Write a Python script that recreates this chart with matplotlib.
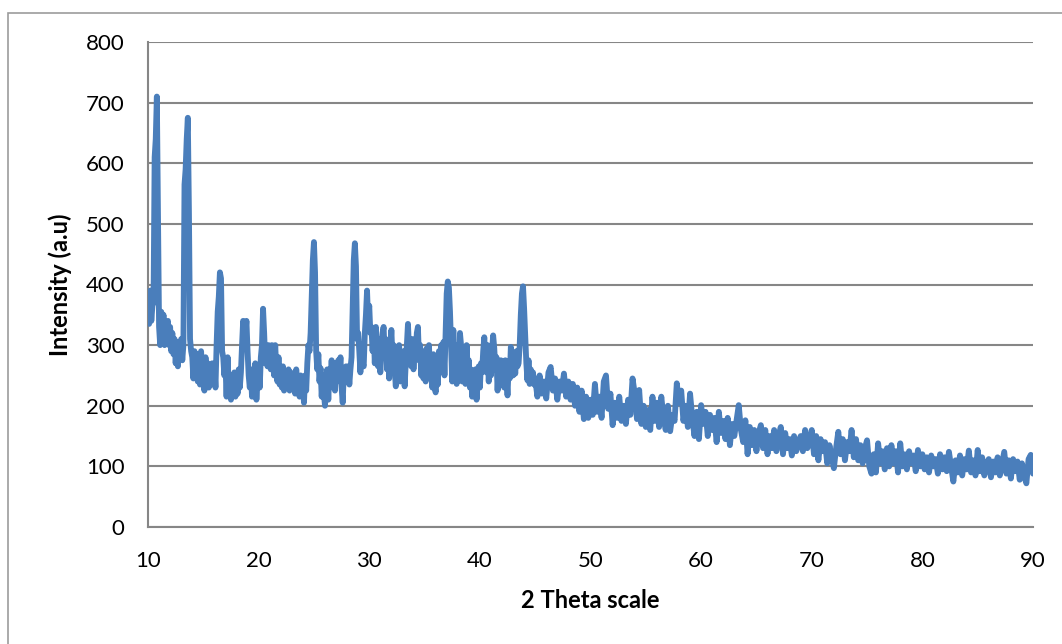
import numpy as np
import matplotlib
matplotlib.use("Agg")
import matplotlib.pyplot as plt
from matplotlib.patches import Rectangle

# XRD scan
# part 1: 10.0 - 44.9 deg, step 0.1
two_theta_a = np.round(np.arange(10.0, 44.95, 0.1), 1)
intensity_a = [
    380, 335, 390, 340, 365, 370, 610, 640, 710, 520,   # 10
    330, 300, 355, 310, 350, 300, 330, 320, 340, 300,   # 11
    330, 290, 320, 285, 310, 270, 300, 265, 305, 280,   # 12
    310, 275, 300, 565, 590, 640, 675, 520, 310, 290,   # 13
    280, 245, 290, 250, 285, 240, 275, 235, 290, 250,   # 14
    260, 225, 280, 240, 270, 230, 255, 235, 270, 240,   # 15
    265, 230, 300, 355, 380, 420, 410, 290, 280, 250,   # 16
    270, 215, 280, 225, 250, 210, 245, 220, 255, 215,   # 17
    240, 220, 260, 230, 255, 300, 340, 300, 320, 340,   # 18
    290, 250, 230, 260, 215, 250, 225, 270, 210, 245,   # 19
    260, 230, 280, 300, 360, 320, 270, 290, 265, 300,   # 20
    275, 260, 300, 285, 250, 300, 260, 240, 280, 235,   # 21
    255, 230, 265, 225, 250, 240, 235, 260, 225, 255,   # 22
    240, 230, 250, 220, 260, 235, 245, 215, 250, 225,   # 23
    235, 205, 250, 225, 270, 300, 290, 320, 380, 440,   # 24
    470, 420, 290, 260, 285, 240, 262, 215, 250, 220,   # 25
    200, 245, 260, 210, 260, 240, 275, 230, 270, 225,   # 26
    260, 240, 275, 255, 280, 230, 205, 255, 240, 265,   # 27
    255, 265, 235, 260, 280, 360, 440, 468, 430, 310,   # 28
    320, 290, 255, 300, 270, 265, 320, 350, 390, 340,   # 29
    365, 320, 330, 290, 325, 270, 330, 280, 265, 310,   # 30
    255, 300, 320, 330, 280, 310, 260, 300, 245, 290,   # 31
    325, 280, 300, 260, 232, 290, 255, 300, 240, 285,   # 32
    250, 290, 232, 270, 300, 335, 290, 300, 265, 310,   # 33
    260, 295, 280, 320, 330, 275, 300, 250, 290, 245,   # 34
    280, 240, 295, 260, 300, 245, 275, 230, 285, 240,   # 35
    222, 270, 235, 290, 255, 300, 270, 305, 250, 320,   # 36
    385, 405, 395, 355, 300, 240, 325, 270, 300, 236,   # 37
    280, 245, 320, 300, 240, 290, 270, 236, 300, 260,   # 38
    275, 230, 260, 215, 250, 225, 260, 210, 240, 265,   # 39
    230, 270, 255, 290, 313, 270, 255, 300, 240, 280,   # 40
    250, 290, 316, 295, 260, 280, 225, 265, 240, 275,   # 41
    255, 270, 230, 275, 250, 217, 265, 245, 297, 280,   # 42
    250, 270, 253, 290, 265, 270, 300, 350, 385, 397,   # 43
    360, 313, 270, 242, 275, 236, 260, 245, 255, 235,   # 44
]

# part 2: 45.0 - 90.0 deg, step 0.2
two_theta_b = np.round(np.arange(45.0, 90.05, 0.2), 1)
intensity_b = [
    245, 215, 250, 220, 240,   # 45
    212, 255, 264, 225, 245,   # 46
    210, 240, 225, 253, 215,   # 47
    240, 210, 236, 200, 230,   # 48
    190, 225, 178, 215, 180,   # 49
    210, 185, 236, 190, 215,   # 50
    180, 240, 250, 195, 220,   # 51
    168, 205, 180, 215, 175,   # 52
    200, 170, 210, 185, 245,   # 53
    220, 178, 226, 170, 200,   # 54
    165, 193, 160, 215, 175,   # 55
    205, 165, 215, 180, 160,   # 56
    200, 158, 185, 175, 237,   # 57
    205, 225, 175, 200, 165,   # 58
    220, 180, 150, 190, 145,   # 59
    201, 170, 190, 150, 185,   # 60
    160, 180, 140, 190, 155,   # 61
    175, 145, 180, 135, 170,   # 62
    150, 175, 201, 160, 140,   # 63
    176, 120, 165, 135, 160,   # 64
    125, 155, 168, 130, 160,   # 65
    120, 150, 130, 160, 125,   # 66
    150, 165, 120, 155, 130,   # 67
    145, 118, 150, 125, 140,   # 68
    150, 125, 160, 130, 140,   # 69
    160, 120, 150, 110, 145,   # 70
    125, 140, 105, 135, 115,   # 71
    97, 130, 157, 120, 145,    # 72
    110, 140, 125, 160, 115,   # 73
    145, 110, 135, 105, 130,   # 74
    143, 100, 88, 120, 90,     # 75
    138, 105, 125, 95, 130,    # 76
    100, 135, 105, 125, 90,    # 77
    138, 100, 120, 95, 125,    # 78
    105, 118, 92, 127, 100,    # 79
    120, 95, 115, 90, 118,     # 80
    100, 112, 88, 120, 95,     # 81
    115, 92, 124, 100, 75,     # 82
    110, 90, 118, 85, 112,     # 83
    95, 126, 90, 110, 85,      # 84
    127, 92, 115, 85, 105,     # 85
    112, 82, 108, 90, 115,     # 86
    85, 105, 124, 88, 110,     # 87
    80, 112, 92, 108, 78,      # 88
    105, 85, 72, 112, 119,     # 89
    88,                        # 90
]

x_ticks = [10, 20, 30, 40, 50, 60, 70, 80, 90]
y_ticks = [0, 100, 200, 300, 400, 500, 600, 700, 800]

two_theta = np.concatenate([two_theta_a, two_theta_b])
intensity = np.concatenate([intensity_a, intensity_b])

plt.rcParams['font.family'] = ['Lato', 'DejaVu Sans']
grey = '#868686'

fig = plt.figure(figsize=(10.62, 6.44), dpi=100)
# outer chart frame
fig.patches.append(Rectangle((8 / 1062, -0.05), 1.1, (644 - 13) / 644 + 0.05,
                             transform=fig.transFigure, fill=False,
                             edgecolor='#9c9c9c', linewidth=1.2))

ax = fig.add_axes([148 / 1062, 117 / 644, 885 / 1062, 485 / 644])
ax.plot(two_theta, intensity, color='#4a7ebb', linewidth=4.2,
        solid_joinstyle='round', solid_capstyle='round', zorder=3)

ax.set_xlim(10, 90)
ax.set_ylim(0, 800)
ax.set_xticks(x_ticks)
ax.set_yticks(y_ticks)
ax.grid(axis='y', color=grey, linewidth=1.5)
ax.set_axisbelow(True)
for s in ['top', 'right']:
    ax.spines[s].set_visible(False)
for s in ['left', 'bottom']:
    ax.spines[s].set_color(grey)
    ax.spines[s].set_linewidth(1.5)
ax.tick_params(axis='both', length=0, labelsize=16, colors='black')
ax.tick_params(axis='y', pad=17)
ax.tick_params(axis='x', pad=17)

ax.set_xlabel('2 Theta scale', fontsize=17, fontweight='bold', labelpad=13)
ax.set_ylabel('Intensity (a.u)', fontsize=17, fontweight='bold', labelpad=10)

fig.savefig('out.png', dpi=100)
